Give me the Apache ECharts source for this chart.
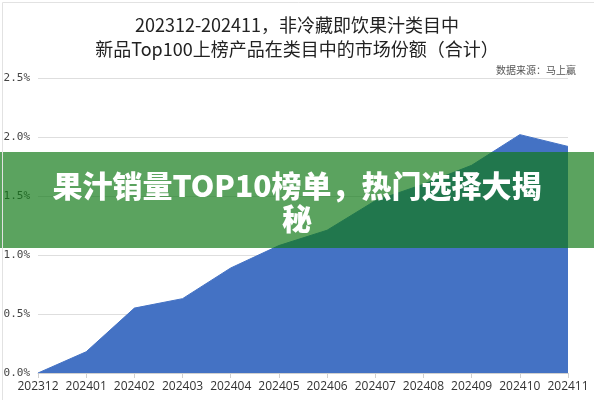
<!DOCTYPE html>
<html>
<head>
<meta charset="utf-8">
<script src="https://cdn.jsdelivr.net/npm/echarts@6/dist/echarts.min.js"></script>
<style>
  html, body { margin: 0; padding: 0; background: #fff; }
  #chart1 { width: 594px; height: 400px; }
</style>
</head>
<body>
<div id="chart1"></div>
<script>
var months = ["202312", "202401", "202402", "202403", "202404", "202405",
              "202406", "202407", "202408", "202409", "202410", "202411"]
var shareValues = [0, 0.18, 0.55, 0.63, 0.89, 1.08, 1.21, 1.46, 1.60, 1.76, 2.02, 1.92]
var yTicks = [0, 0.5, 1.0, 1.5, 2.0, 2.5]

var titleLines = ["202312-202411，非冷藏即饮果汁类目中", "新品Top100上榜产品在类目中的市场份额（合计）"]
var sourceText = "数据来源：马上赢"
var bannerLines = ["果汁销量TOP10榜单，热门选择大揭", "秘"]

var cjk = "'Noto Sans CJK SC', 'Noto Sans', sans-serif"

var shareChart = echarts.init(document.querySelector("#chart1"))

var shareOption = {
    backgroundColor: "#fff",
    animation: false,
    title: [{
        text: titleLines.join("\n"),
        left: "center",
        top: 8,
        textStyle: {
            fontFamily: cjk,
            fontWeight: "normal",
            fontSize: 18,
            lineHeight: 24,
            color: "#222",
        },
    }, {
        text: sourceText,
        right: 13,
        top: 60,
        textStyle: {
            fontFamily: cjk,
            fontWeight: "normal",
            fontSize: 10,
            color: "#555",
        },
    }],
    grid: {
        left: 38,
        right: 26,
        top: 78,
        bottom: 27,
    },
    xAxis: {
        type: "category",
        boundaryGap: false,
        data: months,
        axisLine: { lineStyle: { color: "#d0d0d0" } },
        axisTick: { show: true, lineStyle: { color: "#d0d0d0" } },
        axisLabel: {
            color: "#333",
            fontSize: 12,
            fontFamily: "'Open Sans', sans-serif",
            margin: 8,
            interval: 0,
        },
    },
    yAxis: {
        type: "value",
        min: yTicks[0],
        max: yTicks[yTicks.length - 1],
        interval: 0.5,
        axisLine: { show: false },
        axisTick: { show: false },
        splitLine: { lineStyle: { color: "#dedede" } },
        axisLabel: {
            color: "#444",
            fontSize: 11,
            fontFamily: "'DejaVu Sans Mono', monospace",
            margin: 8,
            formatter: function (v) { return v.toFixed(1) + "%" },
        },
    },
    series: [{
        type: "line",
        data: shareValues,
        symbol: "none",
        lineStyle: { color: "#4472C4", width: 1 },
        areaStyle: { color: "#4472C4", opacity: 1 },
    }],
    graphic: [{
        type: "rect",
        left: 0,
        top: 152,
        z: 100,
        shape: { width: 594, height: 96 },
        style: { fill: "rgba(17, 122, 23, 0.69)" },
    }, {
        type: "text",
        z: 101,
        x: 297,
        y: 186,
        style: {
            text: bannerLines[0],
            fill: "#fff",
            font: "900 30px " + cjk,
            textAlign: "center",
            textVerticalAlign: "middle",
        },
    }, {
        type: "text",
        z: 101,
        x: 297,
        y: 219,
        style: {
            text: bannerLines[1],
            fill: "#fff",
            font: "900 30px " + cjk,
            textAlign: "center",
            textVerticalAlign: "middle",
        },
    }, {
        type: "rect",
        left: 0,
        top: 0,
        z: 102,
        silent: true,
        shape: { width: 593, height: 399 },
        style: { fill: "none", stroke: "#e2e2e2", lineWidth: 1 },
    }],
}

shareChart.setOption(shareOption)
</script>
</body>
</html>
